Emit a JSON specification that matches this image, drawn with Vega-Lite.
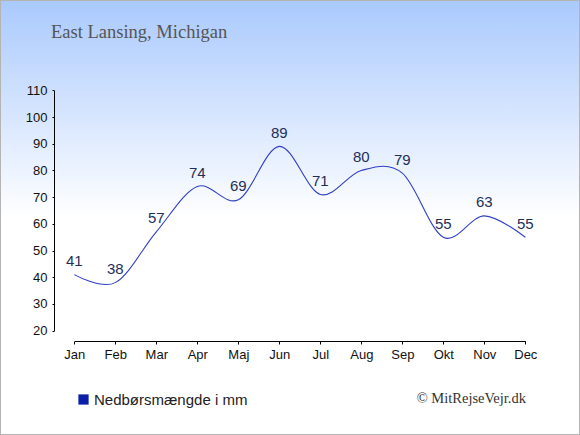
{
  "$schema": "https://vega.github.io/schema/vega-lite/v6.json",
  "width": 580,
  "height": 435,
  "autosize": {"type": "none"},
  "padding": 0,
  "config": {
    "font": "Liberation Sans",
    "view": {
      "stroke": "#b4b4b4",
      "strokeWidth": 2,
      "fill": {
        "gradient": "linear",
        "x1": 0, "y1": 0, "x2": 0, "y2": 1,
        "stops": [
          {"offset": 0, "color": "#a9c9fd"},
          {"offset": 0.5, "color": "#ffffff"},
          {"offset": 1, "color": "#ffffff"}
        ]
      }
    }
  },
  "title": {
    "text": "East Lansing, Michigan",
    "font": "Liberation Serif",
    "fontSize": 18.5,
    "fontWeight": "normal",
    "color": "#555555",
    "anchor": "start",
    "frame": "group",
    "orient": "top",
    "offset": 0,
    "baseline": "alphabetic",
    "dx": 51,
    "dy": 56
  },
  "data": {
    "values": [
      {"m": 1, "v": 41},
      {"m": 2, "v": 38},
      {"m": 3, "v": 57},
      {"m": 4, "v": 74},
      {"m": 5, "v": 69},
      {"m": 6, "v": 89},
      {"m": 7, "v": 71},
      {"m": 8, "v": 80},
      {"m": 9, "v": 79},
      {"m": 10, "v": 55},
      {"m": 11, "v": 63},
      {"m": 12, "v": 55}
    ]
  },
  "encoding": {
    "x": {
      "field": "m", "type": "quantitative",
      "scale": {"domain": [1, 12], "range": [74.3, 525.3], "nice": false, "zero": false},
      "axis": {
        "values": [1, 2, 3, 4, 5, 6, 7, 8, 9, 10, 11, 12],
        "labelExpr": "['Jan','Feb','Mar','Apr','Maj','Jun','Jul','Aug','Sep','Okt','Nov','Dec'][datum.value - 1]",
        "offset": -94,
        "grid": false,
        "domainColor": "#000000",
        "tickColor": "#000000",
        "tickSize": 3,
        "labelPadding": 4,
        "labelFontSize": 13,
        "labelColor": "#111111",
        "labelFlush": false,
        "title": "© MitRejseVejr.dk",
        "titleFont": "Liberation Serif",
        "titleFontSize": 14.5,
        "titleFontWeight": "normal",
        "titleColor": "#333333",
        "titleX": 525.5,
        "titleY": 61,
        "titleAlign": "right",
        "titleBaseline": "alphabetic",
        "encode": {
          "ticks": {"update": {"y": {"value": -3}, "y2": {"value": 3}}}
        }
      }
    },
    "y": {
      "field": "v", "type": "quantitative",
      "scale": {"domain": [20, 110], "range": [330.7, 90.3], "nice": false, "zero": false},
      "axis": {
        "values": [20, 30, 40, 50, 60, 70, 80, 90, 100, 110],
        "offset": -54,
        "grid": false,
        "domainColor": "#000000",
        "tickColor": "#000000",
        "tickSize": 2,
        "labelPadding": 5,
        "labelFontSize": 13,
        "labelColor": "#111111",
        "labelFlush": false,
        "title": null,
        "encode": {
          "ticks": {"update": {"x": {"value": -2}, "x2": {"value": 3}}}
        }
      }
    }
  },
  "layer": [
    {
      "mark": {"type": "line", "interpolate": "cardinal", "strokeWidth": 1.1},
      "encoding": {
        "color": {
          "datum": "Nedbørsmængde i mm",
          "scale": {"range": ["#2f3fc4"]},
          "legend": {
            "title": null,
            "orient": "none",
            "legendX": 76,
            "legendY": 392,
            "padding": 0,
            "symbolType": "square",
            "symbolSize": 105,
            "labelFont": "Liberation Sans",
            "labelFontSize": 15,
            "labelColor": "#222222",
            "labelOffset": 3,
            "encode": {
              "symbols": {
                "update": {
                  "fill": {"value": "#0b1fa8"},
                  "stroke": {"value": "#0b1fa8"},
                  "strokeWidth": {"value": 0}
                }
              }
            }
          }
        }
      }
    },
    {
      "mark": {
        "type": "text",
        "baseline": "alphabetic",
        "dy": -8.5,
        "fontSize": 15,
        "color": "#1f2f57"
      },
      "encoding": {
        "text": {"field": "v", "type": "quantitative"}
      }
    }
  ]
}
